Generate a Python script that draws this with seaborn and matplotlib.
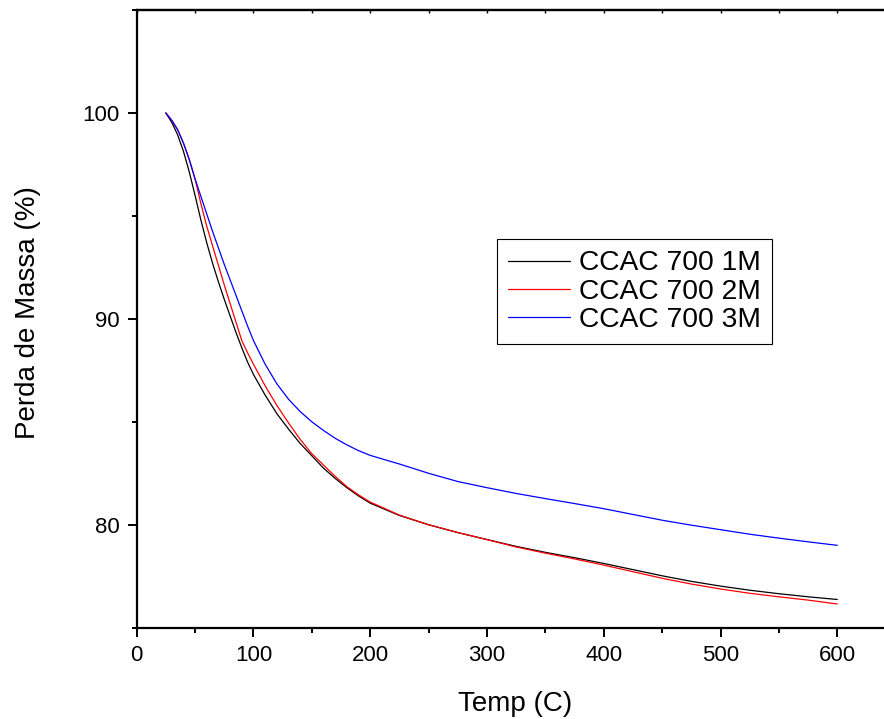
import matplotlib
matplotlib.use('Agg')
import matplotlib.pyplot as plt
from matplotlib.ticker import MultipleLocator
import seaborn as sns

# TGA curves
temp = [25, 30, 35, 40, 45, 50, 55, 60, 65, 70, 75, 80, 85, 90, 95, 100, 110, 120, 130, 140,
        150, 160, 170, 180, 190, 200, 225, 250, 275, 300, 325, 350, 375, 400, 425, 450, 475,
        500, 525, 550, 575, 600]
mass_1m = [100.0, 99.55, 98.95, 98.15, 97.15, 96.0, 94.8, 93.7, 92.7, 91.8, 90.95, 90.15,
           89.35, 88.6, 87.9, 87.3, 86.3, 85.4, 84.65, 83.95, 83.35, 82.75, 82.25, 81.8, 81.4,
           81.05, 80.45, 80.0, 79.62, 79.28, 78.95, 78.66, 78.4, 78.12, 77.82, 77.52, 77.25, 77.02,
           76.82, 76.65, 76.5, 76.37]
mass_2m = [100.0, 99.65, 99.2, 98.55, 97.75, 96.8, 95.6, 94.5, 93.55, 92.6, 91.65, 90.75,
           89.85, 88.95, 88.35, 87.8, 86.75, 85.8, 84.95, 84.15, 83.45, 82.9, 82.35, 81.85, 81.45,
           81.1, 80.47, 80.0, 79.62, 79.28, 78.92, 78.62, 78.34, 78.04, 77.72, 77.4, 77.12, 76.88,
           76.67, 76.5, 76.34, 76.15]
mass_3m = [100.0, 99.65, 99.2, 98.55, 97.75, 96.8, 95.95, 95.1, 94.25, 93.45, 92.65, 91.9,
           91.15, 90.4, 89.65, 88.95, 87.8, 86.85, 86.1, 85.5, 85.0, 84.58, 84.2, 83.88, 83.6,
           83.37, 82.95, 82.5, 82.1, 81.8, 81.52, 81.27, 81.03, 80.78, 80.5, 80.22, 79.98, 79.76,
           79.54, 79.35, 79.17, 79.0]

series = [("CCAC 700 1M", mass_1m, "black"),
          ("CCAC 700 2M", mass_2m, "red"),
          ("CCAC 700 3M", mass_3m, "blue")]

sns.set_style("ticks")
plt.rcParams['font.family'] = ['Liberation Sans', 'DejaVu Sans']
plt.rcParams['text.color'] = 'black'
plt.rcParams['axes.labelcolor'] = 'black'

fig = plt.figure(figsize=(8.84, 7.19), dpi=100)
ax = fig.add_axes([0.1546, 0.127, 0.8454, 0.859])

for label, vals, color in series:
    sns.lineplot(x=temp, y=vals, color=color, label=label, linewidth=0.9, ax=ax)

ax.set_xlim(0, 640)
ax.set_ylim(75, 105)
ax.xaxis.set_major_locator(MultipleLocator(100))
ax.xaxis.set_minor_locator(MultipleLocator(50))
ax.yaxis.set_major_locator(MultipleLocator(10))
ax.yaxis.set_minor_locator(MultipleLocator(5))

for side in ['left', 'bottom', 'top']:
    ax.spines[side].set_linewidth(1.6)
    ax.spines[side].set_color('black')
ax.spines['right'].set_visible(False)

ax.tick_params(which='major', direction='out', length=6.5, width=1.4, labelsize=16,
               colors='black', pad=6)
ax.tick_params(which='minor', direction='out', length=3.5, width=1.4, colors='black')

top = ax.secondary_xaxis('top')
top.xaxis.set_major_locator(MultipleLocator(50))
top.tick_params(direction='in', length=2, width=1, labeltop=False, colors='black')
top.spines['top'].set_linewidth(1.6)

ax.set_xlabel("Temp (C)", fontsize=20)
ax.set_ylabel("Perda de Massa (%)", fontsize=20)
ax.xaxis.set_label_coords(0.507, -0.103)
ax.yaxis.set_label_coords(-0.128, 0.51)

ax.legend(loc='upper left', bbox_to_anchor=(0.482, 0.629), fontsize=20.3, frameon=True,
          fancybox=False, edgecolor='black', framealpha=1, borderpad=0.4,
          handlelength=2.2, handletextpad=0.3, labelspacing=0.08, borderaxespad=0)
ax.get_legend().get_frame().set_linewidth(0.8)

fig.savefig("out.png", dpi=100)
